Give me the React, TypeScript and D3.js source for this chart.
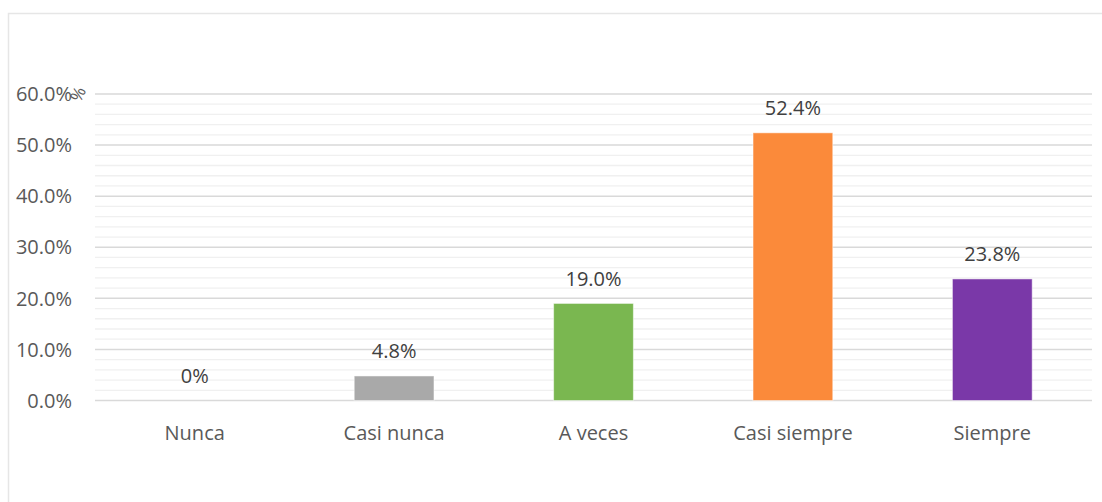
import React from "react";
import * as d3 from "d3";

const categories = ["Nunca", "Casi nunca", "A veces", "Casi siempre", "Siempre"];
const values = [0, 4.8, 19.0, 52.4, 23.8];
const valueLabels = ["0%", "4.8%", "19.0%", "52.4%", "23.8%"];
const colors = ["#A5A5A5", "#A9A9A9", "#7AB750", "#FB8A3A", "#7A38A8"];
const majorTicks = [0, 10, 20, 30, 40, 50, 60];
const minorTicks = d3.range(0, 61, 2);

const W = 1102;
const H = 502;
const FONT = "'Open Sans', sans-serif";
const FS = 20;

export default function App() {
  const x = d3.scaleBand<string>().domain(categories).range([95, 1092]).paddingInner(0.6).paddingOuter(0.3);
  const y = d3.scaleLinear().domain([0, 60]).range([400.5, 94]);

  return (
    <svg width={W} height={H} style={{ position: "absolute", left: 0, top: 0, background: "#fff" }}>
      <rect x={0} y={0} width={W} height={H} fill="#fff" />
      <path d={`M8.5,${H + 2} V13.5 H${W + 2}`} fill="none" stroke="#E6E6E6" strokeWidth={1.5} />
      {minorTicks.filter((t) => t % 10 !== 0).map((t) => (
        <line key={"m" + t} x1={95} x2={1092} y1={y(t)} y2={y(t)} stroke="#F0F0F0" strokeWidth={1.3} />
      ))}
      {majorTicks.map((t) => (
        <line key={"M" + t} x1={95} x2={1092} y1={y(t)} y2={y(t)} stroke="#D9D9D9" strokeWidth={1.5} />
      ))}
      {majorTicks.map((t) => (
        <text key={"t" + t} x={72} y={y(t)} dy="0.36em" textAnchor="end" fontFamily={FONT} fontSize={FS} fill="#595959">
          {t.toFixed(1) + "%"}
        </text>
      ))}
      <text x={0} y={0} transform="translate(78,94) rotate(-65)" textAnchor="middle" dy="0.36em" fontFamily={FONT} fontSize={17} fill="#595959">
        %
      </text>
      {categories.map((c, i) => {
        const bx = x(c)!;
        const bw = x.bandwidth();
        const top = y(values[i]);
        return (
          <g key={c}>
            {values[i] > 0 && (
              <rect x={bx} y={top} width={bw} height={y(0) - top} fill={colors[i]} stroke="#ffffff" strokeOpacity={0.5} strokeWidth={1} />
            )}
            <text x={bx + bw / 2} y={top - 25} dy="0.36em" textAnchor="middle" fontFamily={FONT} fontSize={FS} fill="#404040">
              {valueLabels[i]}
            </text>
            <text x={bx + bw / 2} y={433} dy="0.36em" textAnchor="middle" fontFamily={FONT} fontSize={FS} fill="#595959">
              {c}
            </text>
          </g>
        );
      })}
    </svg>
  );
}
